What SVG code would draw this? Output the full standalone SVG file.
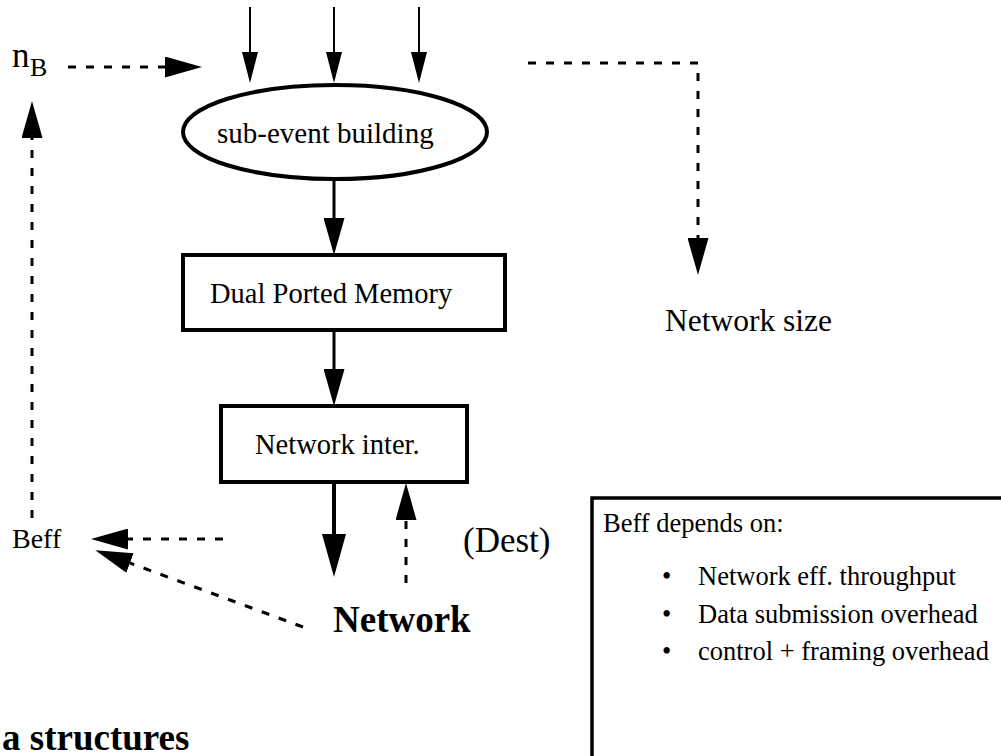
<svg xmlns="http://www.w3.org/2000/svg" width="1001" height="756" viewBox="0 0 1001 756">
<style>
  text { font-family: "Liberation Serif", "Times New Roman", serif; fill: #000; }
  .b { font-weight: bold; }
  .shape { fill: #fff; stroke: #000; stroke-width: 4; }
  .thin { stroke: #000; stroke-width: 2; fill: none; }
  .solid { stroke: #000; stroke-width: 3; fill: none; }
  .thick { stroke: #000; stroke-width: 4; fill: none; }
  .dash { stroke: #000; stroke-width: 3; fill: none; stroke-dasharray: 8 10; }
</style>
<defs>
  <marker id="ahs" markerUnits="userSpaceOnUse" viewBox="0 0 31 16" markerWidth="31" markerHeight="16" refX="0" refY="8" orient="auto">
    <path d="M0,0 L31,8 L0,16 Z" fill="#000"/>
  </marker>
  <marker id="ah" markerUnits="userSpaceOnUse" viewBox="0 0 37 21" markerWidth="37" markerHeight="21" refX="0" refY="10.5" orient="auto">
    <path d="M0,0 L37,10.5 L0,21 Z" fill="#000"/>
  </marker>
  <marker id="ahl" markerUnits="userSpaceOnUse" viewBox="0 0 43 24" markerWidth="43" markerHeight="24" refX="0" refY="12" orient="auto">
    <path d="M0,0 L43,12 L0,24 Z" fill="#000"/>
  </marker>
</defs>

<g id="connectors">
  <line class="thin" x1="250" y1="7" x2="250" y2="52" marker-end="url(#ahs)"/>
  <line class="thin" x1="334" y1="7" x2="334" y2="52" marker-end="url(#ahs)"/>
  <line class="thin" x1="419" y1="7" x2="419" y2="52" marker-end="url(#ahs)"/>
  <line class="dash" x1="68" y1="67" x2="165" y2="67" marker-end="url(#ah)"/>
  <line class="dash" x1="32" y1="518" x2="32" y2="138" marker-end="url(#ah)"/>
  <polyline class="dash" points="528,63 698,63 698,238" marker-end="url(#ah)"/>
  <line class="solid" x1="334" y1="179" x2="334" y2="218" marker-end="url(#ah)"/>
  <line class="solid" x1="334" y1="331" x2="334" y2="369" marker-end="url(#ah)"/>
  <line class="thick" x1="334" y1="482" x2="334" y2="534" marker-end="url(#ahl)"/>
  <line class="dash" x1="406" y1="583" x2="406" y2="520" marker-end="url(#ah)"/>
  <line class="dash" x1="223" y1="539" x2="128" y2="539" marker-end="url(#ah)"/>
  <line class="dash" x1="303" y1="627" x2="130" y2="563" marker-end="url(#ah)"/>
</g>

<g id="nB">
  <text x="12" y="67" font-size="35">n</text>
  <text x="30" y="76" font-size="26">B</text>
</g>

<g id="sub-event">
  <ellipse class="shape" cx="335" cy="132" rx="152" ry="47"/>
  <text x="217" y="143" font-size="29">sub-event building</text>
</g>

<g id="dpm">
  <rect class="shape" x="183" y="255" width="322" height="75"/>
  <text x="210" y="303" font-size="28.5">Dual Ported Memory</text>
</g>

<g id="netinter">
  <rect class="shape" x="221" y="406" width="246" height="76"/>
  <text x="255" y="454" font-size="28.5">Network inter.</text>
</g>

<g id="netsize">
  <text x="665" y="331" font-size="31.5">Network size</text>
</g>

<g id="beff">
  <text x="12" y="548" font-size="28">Beff</text>
</g>

<g id="dest">
  <text x="463" y="552" font-size="35">(Dest)</text>
</g>

<g id="network">
  <text class="b" x="333" y="632" font-size="37">Network</text>
</g>

<g id="title">
  <text class="b" x="2" y="750" font-size="37">a structures</text>
</g>

<g id="beffbox">
  <rect x="592" y="498" width="420" height="300" fill="#fff" stroke="#000" stroke-width="3.5"/>
  <text x="603" y="532" font-size="26.5">Beff depends on:</text>
  <text x="662" y="585" font-size="26.5">•</text>
  <text x="698" y="585" font-size="26.5">Network eff. throughput</text>
  <text x="662" y="623" font-size="26.5">•</text>
  <text x="698" y="623" font-size="26.5">Data submission overhead</text>
  <text x="662" y="660" font-size="26.5">•</text>
  <text x="698" y="660" font-size="26.5">control + framing overhead</text>
</g>
</svg>
